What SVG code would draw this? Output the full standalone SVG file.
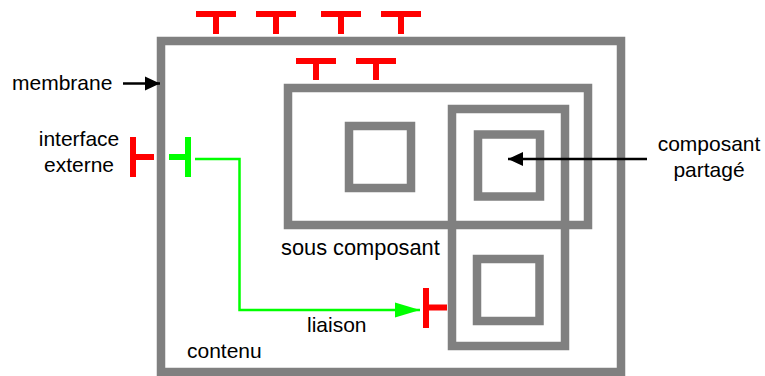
<svg xmlns="http://www.w3.org/2000/svg" width="765" height="376" viewBox="0 0 765 376">
<style>
.box{fill:none;stroke:#808080;stroke-width:8.5}
.itf{fill:none;stroke:#ff0000;stroke-width:6}
.gitf{fill:none;stroke:#00ff00;stroke-width:6}
.t{font-family:"Liberation Sans",Arial,sans-serif;font-size:21px;fill:#000}
.blk{fill:none;stroke:#000;stroke-width:2.5}
.grn{fill:none;stroke:#00ff00;stroke-width:2.5}
</style>
<defs>
<marker id="ab" markerUnits="userSpaceOnUse" markerWidth="16" markerHeight="16" viewBox="0 0 16 16" refX="15" refY="8" orient="auto"><path d="M0,1 L15,8 L0,15 Z" fill="#000"/></marker>
<marker id="ag" markerUnits="userSpaceOnUse" markerWidth="26" markerHeight="18" viewBox="0 0 26 18" refX="25" refY="9" orient="auto"><path d="M0,1.5 L25,9 L0,16.5 Z" fill="#00ff00"/></marker>
</defs>
<g id="composite">
<rect class="box" x="161" y="41" width="460" height="331"/>
<text class="t" x="187" y="358">contenu</text>
</g>
<g id="external-interfaces">
<path class="itf" d="M196,14H236M216,14V34M256,14H296M276,14V34M321,14H361M341,14V34M381,14H421M401,14V34"/>
<path class="itf" d="M133,137V177M133,157H154"/>
</g>
<g id="internal-interface">
<path class="gitf" d="M188,137V177M169,157H188"/>
</g>
<g id="sub-component">
<rect class="box" x="288" y="88" width="300" height="137"/>
<rect class="box" x="349" y="126" width="62" height="62"/>
<path class="itf" d="M296,61H336M316,61V80M356,61H396M376,61V80"/>
<text class="t" x="281" y="255" style="font-size:21.8px">sous composant</text>
</g>
<g id="shared-component">
<rect class="box" x="452" y="109" width="113" height="237"/>
<rect class="box" x="478" y="134.5" width="62" height="62"/>
<rect class="box" x="477" y="259" width="62.5" height="62"/>
<path class="itf" d="M426,288V328M426,307.5H447"/>
</g>
<g id="labels">
<text class="t" x="12" y="90">membrane</text>
<text class="t" x="79" y="146" text-anchor="middle">interface</text>
<text class="t" x="79" y="172" text-anchor="middle">externe</text>
<text class="t" x="709" y="151" text-anchor="middle">composant</text>
<text class="t" x="709" y="177" text-anchor="middle">partagé</text>
<text class="t" x="307" y="332">liaison</text>
</g>
<g id="connectors">
<line class="blk" x1="123" y1="83.5" x2="160" y2="83.5" marker-end="url(#ab)"/>
<line class="blk" x1="647" y1="159" x2="508" y2="159" marker-end="url(#ab)"/>
<path class="grn" d="M195,159H239.5V310H420" marker-end="url(#ag)"/>
</g>
</svg>
